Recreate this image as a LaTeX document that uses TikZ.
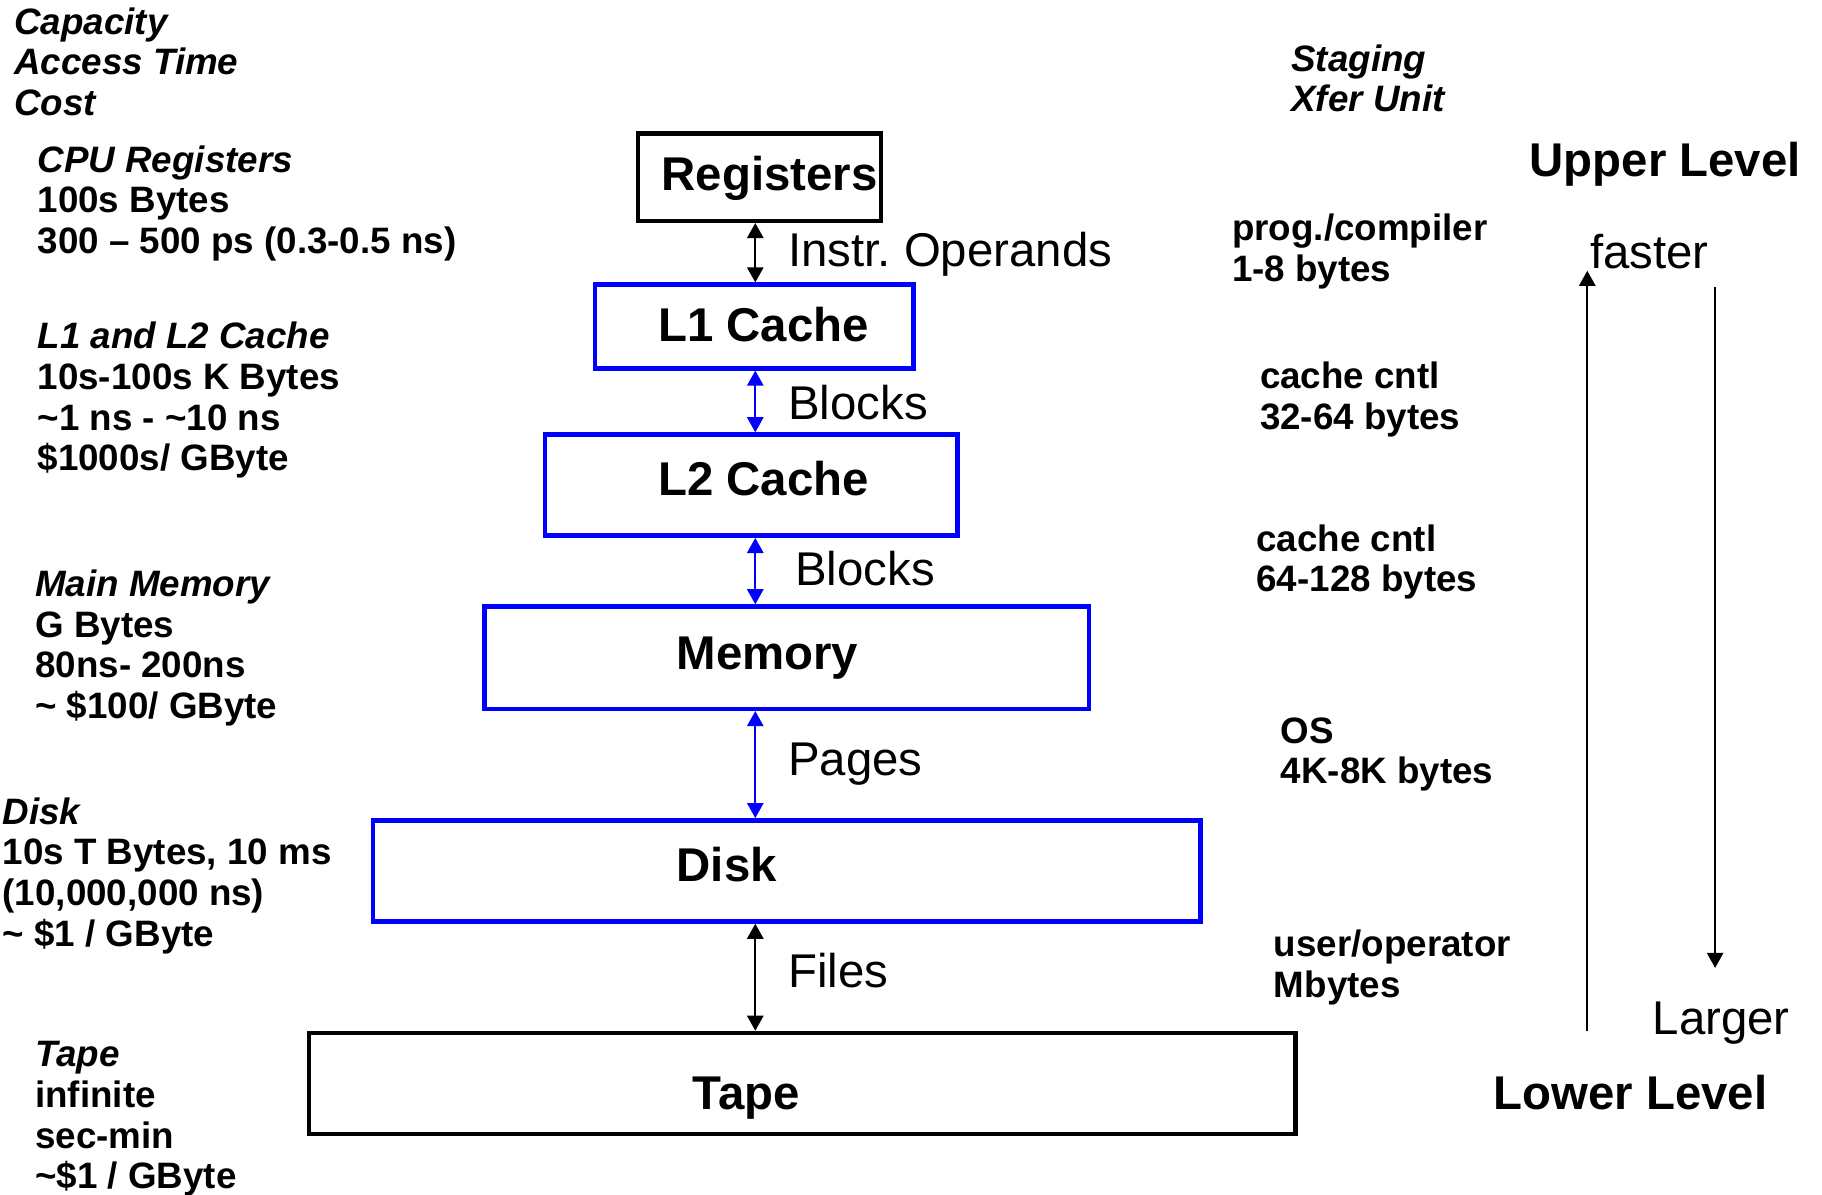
\documentclass[tikz,border=0pt]{standalone}
\usepackage{fontspec}
\setmainfont{Liberation Sans}
\usetikzlibrary{fit,arrows.meta}
\frenchspacing

\begin{document}
\begin{tikzpicture}[
x=0.2mm,y=-0.2mm,
lvl/.style={%
draw,
line width=2.2pt,
inner sep=0pt
},
blvl/.style={lvl,draw=blue},
info/.style={anchor=north west,align=left,inner sep=0pt,font=\fontsize{18}{19.9}\selectfont\bfseries},
head/.style={info,font=\fontsize{18}{19.9}\selectfont\bfseries\itshape},
big/.style={anchor=base west,inner sep=0pt,font=\fontsize{23.2}{27}\selectfont},
tag/.style={big,font=\fontsize{23.2}{27}\selectfont\bfseries},
xfer/.style={{Triangle[length=2.6mm,width=2.8mm]}-{Triangle[length=2.6mm,width=2.8mm]},line width=1pt},
trend/.style={-{Triangle[length=2.6mm,width=2.8mm]},line width=1pt}
]
\useasboundingbox(0,0)rectangle(1568,1028);
%% Column heads
\node[head]at(12,6)(hdr){Capacity\\Access Time\\Cost};
\node[head]at(1111,38)(stage){Staging\\Xfer Unit};
%% Left: size, speed, price
\node[info]at(32,125)(cpuinfo){\textit{CPU Registers}\\100s Bytes\\300 -- 500 ps (0.3-0.5 ns)};
\node[info]at(32,277)(cacheinfo){\textit{L1 and L2 Cache}\\10s-100s K Bytes\\\textasciitilde1 ns - \textasciitilde10 ns\\\$1000s/ GByte};
\node[info]at(30,490)(meminfo){\textit{Main Memory}\\G Bytes\\80ns- 200ns\\\textasciitilde{} \$100/ GByte};
\node[info]at(2,686)(diskinfo){\textit{Disk}\\10s T Bytes, 10 ms\\(10,000,000 ns)\\\textasciitilde{} \$1 / GByte};
\node[info]at(30,896)(tapeinfo){\textit{Tape}\\infinite\\sec-min\\\textasciitilde\$1 / GByte};
%% Levels
\node[lvl,fit={(549,115)(758,190)}](regs){};
\node[tag]at(569,164){Registers};
\node[blvl,fit={(512,245)(786,317)}](l1){};
\node[tag]at(566,294){L1 Cache};
\node[blvl,fit={(469,374)(824,461)}](l2){};
\node[tag]at(566,426){L2 Cache};
\node[blvl,fit={(417,522)(937,610)}](mem){};
\node[tag]at(582,576){Memory};
\node[blvl,fit={(321,706)(1033,793)}](disk){};
\node[tag]at(582,759){Disk};
\node[lvl,fit={(266,889)(1115,976)}](tape){};
\node[tag]at(596,955){Tape};
%% Transfers
\coordinate(ax)at(650,0);
\draw[xfer](regs.south-|ax)--(l1.north-|ax);
\node[big]at(678,229){Instr. Operands};
\draw[xfer,blue](l1.south-|ax)--(l2.north-|ax);
\node[big]at(678,361){Blocks};
\draw[xfer,blue](l2.south-|ax)--(mem.north-|ax);
\node[big]at(684,504){Blocks};
\draw[xfer,blue](mem.south-|ax)--(disk.north-|ax);
\node[big]at(678,667){Pages};
\draw[xfer](disk.south-|ax)--(tape.north-|ax);
\node[big]at(678,850){Files};
%% Right: who stages, unit size
\node[info]at(1060,184)(u1){prog./compiler\\1-8 bytes};
\node[info]at(1084,311)(u2){cache cntl\\32-64 bytes};
\node[info]at(1081,451)(u3){cache cntl\\64-128 bytes};
\node[info]at(1102,617)(u4){OS\\4K-8K bytes};
\node[info]at(1096,800)(u5){user/operator\\Mbytes};
%% Direction
\node[tag]at(1316,152)(up){Upper Level};
\node[tag]at(1285,955)(low){Lower Level};
\node[big]at(1368,231)(fast){faster};
\node[big]at(1422,890)(large){Larger};
\coordinate(fbot)at(1366,887);
\coordinate(ftop)at(1366,233);
\draw[trend](fbot)--(ftop);
\coordinate(ltop)at(1476,247);
\coordinate(lbot)at(1476,833);
\draw[trend](ltop)--(lbot);
\end{tikzpicture}
\end{document}
